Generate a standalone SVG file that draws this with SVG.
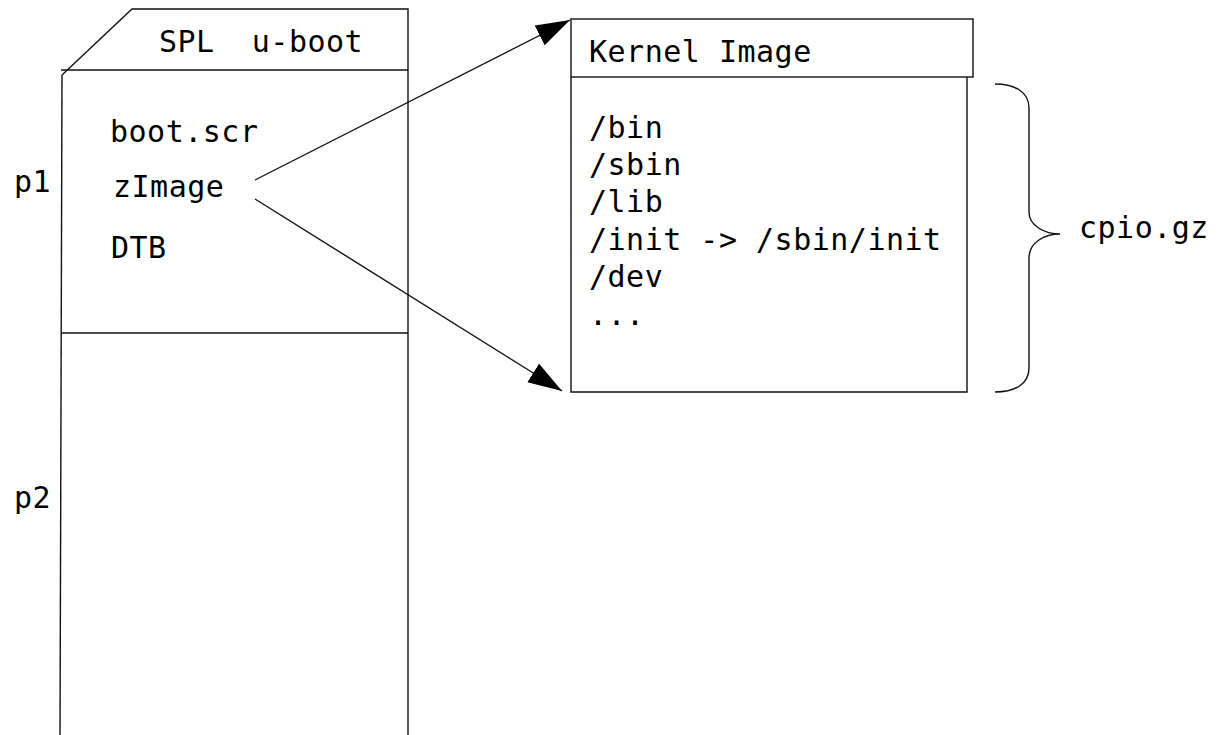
<svg xmlns="http://www.w3.org/2000/svg" width="1217" height="735" viewBox="0 0 1217 735">
<style>
.ln{fill:none;stroke:#111;stroke-width:1.4}
.t{font-family:"DejaVu Sans Mono","Liberation Mono",monospace;font-size:30px;letter-spacing:0.5px;fill:#000}
</style>
<defs>
<marker id="ah" markerUnits="userSpaceOnUse" markerWidth="36" markerHeight="24" refX="34" refY="11" orient="auto">
<path d="M0,0 L34,11 L0,22 z" fill="#000"/>
</marker>
</defs>
<rect width="1217" height="735" fill="#fff"/>
<g id="sdcard">
<path class="ln" d="M62,75 L132,9 L408,9 L408,735"/>
<path class="ln" d="M62,75 L60,735"/>
<path class="ln" d="M61,70 L408,70"/>
<path class="ln" d="M61,333 L408,333"/>
<text class="t" x="159" y="52" xml:space="preserve">SPL  u-boot</text>
<text class="t" x="110" y="142">boot.scr</text>
<text class="t" x="113" y="197">zImage</text>
<text class="t" x="111" y="258">DTB</text>
</g>
<g id="p1"><text class="t" x="14" y="192">p1</text></g>
<g id="p2"><text class="t" x="14" y="508">p2</text></g>
<g id="kernel">
<rect class="ln" x="571" y="19" width="402" height="58"/>
<path class="ln" d="M571,77 L571,392 L967,392 L967,77"/>
<text class="t" x="589" y="62">Kernel Image</text>
<text class="t" x="589" y="138">/bin</text>
<text class="t" x="589" y="175">/sbin</text>
<text class="t" x="589" y="212">/lib</text>
<text class="t" x="589" y="250">/init -&gt; /sbin/init</text>
<text class="t" x="589" y="287">/dev</text>
<text class="t" x="589" y="325">...</text>
</g>
<g id="cpio">
<path class="ln" d="M995,84 C1015,84 1029,92 1029,108 L1029,212 C1029,226 1045,234 1060,234 C1045,234 1029,242 1029,258 L1029,368 C1029,384 1015,392 995,392"/>
<text class="t" x="1079" y="238">cpio.gz</text>
</g>
<g id="connectors">
<path class="ln" d="M255,180 L570,20" marker-end="url(#ah)"/>
<path class="ln" d="M255,199 L562,391" marker-end="url(#ah)"/>
</g>
</svg>
